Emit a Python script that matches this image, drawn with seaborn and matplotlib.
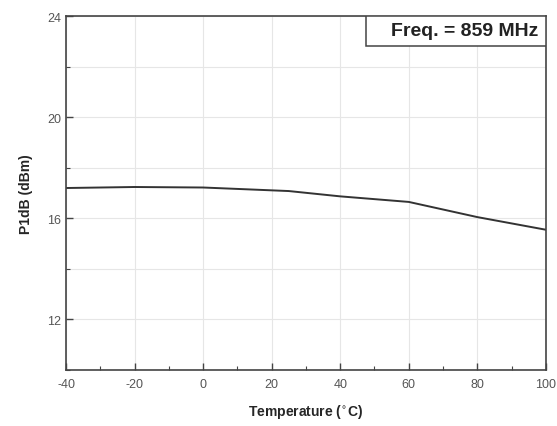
import numpy as np
import pandas as pd
import seaborn as sns
import matplotlib.pyplot as plt
from matplotlib.ticker import MultipleLocator
from matplotlib.patches import Rectangle

# Values
temperature = [-40, -20, 0, 25, 40, 60, 80, 100]
p1db = [17.20, 17.24, 17.22, 17.08, 16.87, 16.65, 16.05, 15.55]

x_ticks = [-40, -20, 0, 20, 40, 60, 80, 100]
y_ticks = [12, 16, 20, 24]

df = pd.DataFrame({'Temperature': temperature, 'P1dB': p1db})

sns.set_style('white', {'xtick.bottom': True, 'ytick.left': True})
plt.rcParams['font.family'] = ['Liberation Sans', 'DejaVu Sans']
plt.rcParams['axes.unicode_minus'] = False

fig = plt.figure(figsize=(5.57, 4.27), dpi=100)
ax = fig.add_axes([0.1185, 0.131, 0.8615, 0.829])

sns.lineplot(data=df, x='Temperature', y='P1dB', ax=ax, color='#333333', linewidth=1.4)

ax.set_xlim(-40, 100)
ax.set_ylim(10, 24)
ax.set_xticks(x_ticks)
ax.set_yticks(y_ticks)
ax.xaxis.set_minor_locator(MultipleLocator(10))
ax.yaxis.set_minor_locator(MultipleLocator(2))

# Light grid on x majors and on every y tick
ax.grid(True, which='major', color='#e6e6e6', linewidth=0.8)
ax.grid(True, which='minor', axis='y', color='#e6e6e6', linewidth=0.8)
ax.set_axisbelow(True)

ax.tick_params(which='major', direction='in', length=5, width=1, labelsize=9,
               colors='#444444', labelcolor='#555555')
ax.tick_params(which='minor', direction='in', length=3, width=0.8, colors='#444444')
ax.tick_params(axis='x', pad=6)

for side in ax.spines.values():
    side.set_color('#444444')
    side.set_linewidth(1.2)

ax.set_xlabel('Temperature ($^{\\circ}$C)', fontsize=10, fontweight='bold', labelpad=8)
ax.set_ylabel('P1dB (dBm)', fontsize=10, fontweight='bold', labelpad=10)

# Annotation box in the upper right corner
ax.add_patch(Rectangle((0.625, 0.915), 0.375, 0.085, transform=ax.transAxes,
                       facecolor='white', edgecolor='#444444', linewidth=1.1, zorder=5))
ax.text(0.83, 0.958, 'Freq. = 859 MHz', transform=ax.transAxes, ha='center', va='center',
        fontsize=14, fontweight='bold', color='#222222', zorder=6)

fig.savefig('out.png', dpi=100)
